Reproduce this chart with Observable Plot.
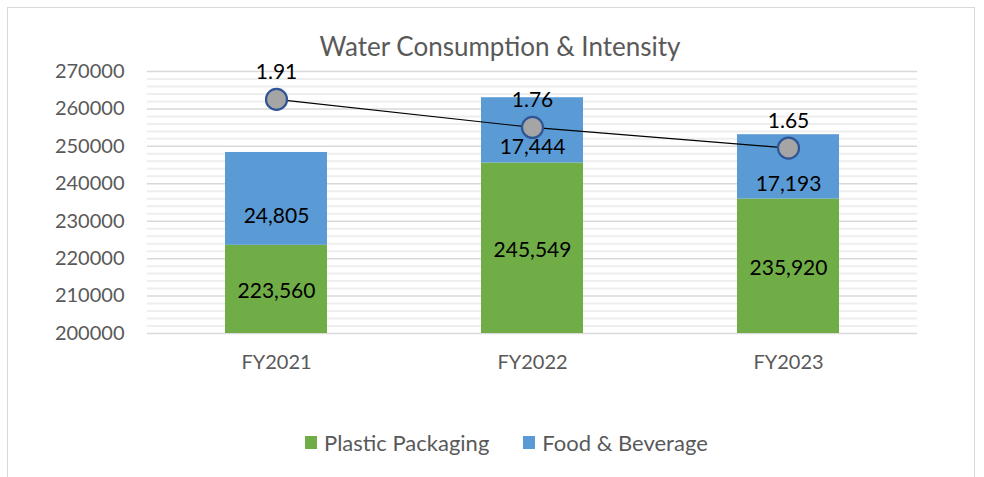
<!DOCTYPE html>
<html>
<head>
<meta charset="utf-8">
<script src="https://cdn.jsdelivr.net/npm/d3@7"></script>
<script src="https://cdn.jsdelivr.net/npm/@observablehq/plot@0.6"></script>
<style>
  html, body { margin: 0; padding: 0; background: #fff; }
  #wrap { position: relative; width: 984px; height: 477px; overflow: hidden; font-family: Lato, "Open Sans", sans-serif; }
  #border { position: absolute; left: 7px; top: 7px; width: 966px; height: 490px; border: 1.5px solid #d9d9d9; }
  #title { position: absolute; left: 0; width: 1000px; top: 30px; text-align: center; font-size: 26px; color: #595959; line-height: 32px; }
  .layer { position: absolute; left: 0; top: 0; }
  #legend { position: absolute; top: 429px; left: 305px; display: flex; align-items: center; font-size: 22px; color: #595959; }
  .sw { width: 12px; height: 13px; display: inline-block; margin-right: 7px; }
  .item { display: flex; align-items: center; margin-right: 34px; }
</style>
</head>
<body>
<div id="wrap">
  <div id="border"></div>
  <div id="title">Water Consumption &amp; Intensity</div>
  <div id="chart" class="layer"></div>
  <div id="line" class="layer"></div>
  <div id="legend"></div>
</div>
<script>
// ---- data ----
const years = ["FY2021", "FY2022", "FY2023"];
const plasticPackaging = [223560, 245549, 235920];
const foodBeverage = [24805, 17444, 17193];
const intensity = [1.91, 1.76, 1.65];
const seriesNames = ["Plastic Packaging", "Food & Beverage"];
const seriesColors = ["#70ad47", "#5b9bd5"];
const yTicks = [200000, 210000, 220000, 230000, 240000, 250000, 260000, 270000];

// ---- layout ----
const W = 984, H = 400;
const M = {top: 71, bottom: 67, left: 147, right: 67};
const yMin = 200000, yMax = 270000;
const minorTicks = d3.range(yMin, yMax + 1, 2000).filter(v => v % 10000 !== 0);

// long table for stacking
const rows = [];
years.forEach((yr, i) => {
  rows.push({year: yr, series: seriesNames[0], value: plasticPackaging[i]});
  rows.push({year: yr, series: seriesNames[1], value: foodBeverage[i]});
});
// label positions: middle of the visible part of each segment
const labels = [];
years.forEach((yr, i) => {
  const lo1 = 0, hi1 = plasticPackaging[i];
  const lo2 = hi1, hi2 = hi1 + foodBeverage[i];
  labels.push({year: yr, series: seriesNames[0], mid: (Math.max(lo1, yMin) + hi1) / 2, text: d3.format(",")(plasticPackaging[i])});
  labels.push({year: yr, series: seriesNames[1], mid: (Math.max(lo2, yMin) + hi2) / 2, text: d3.format(",")(foodBeverage[i])});
});

const xScale = {domain: years, paddingInner: 0.6, paddingOuter: 0.3};

const chart = Plot.plot({
  width: W, height: H,
  marginTop: M.top, marginBottom: M.bottom, marginLeft: M.left, marginRight: M.right,
  style: {fontFamily: "Lato, 'Open Sans', sans-serif", color: "#595959", background: "transparent", overflow: "visible"},
  x: {...xScale, label: null},
  y: {domain: [yMin, yMax], label: null},
  color: {domain: seriesNames, range: seriesColors},
  marks: [
    Plot.ruleY(minorTicks, {stroke: "#eeeeee", strokeWidth: 2}),
    Plot.ruleY(yTicks, {stroke: "#d9d9d9", strokeWidth: 1.5}),
    Plot.barY(rows, Plot.stackY({x: "year", y: "value", fill: "series", order: seriesNames, clip: true})),
    Plot.text(labels.filter(d => d.series === seriesNames[0]), {x: "year", y: "mid", text: "text", fontSize: 21, fill: "#000", dy: 2}),
    Plot.text(labels.filter(d => d.series === seriesNames[1]), {x: "year", y: "mid", text: "text", fontSize: 21, fill: "#000", dy: 17}),
    Plot.axisY(yTicks, {tickSize: 0, tickPadding: 23, fontSize: 20, tickFormat: d3.format("d"), label: null}),
    Plot.axisX({tickSize: 0, tickPadding: 21, fontSize: 20, label: null})
  ]
});
document.getElementById("chart").appendChild(chart);

// intensity line on a secondary (hidden) scale
const lineData = years.map((yr, i) => ({year: yr, v: intensity[i], text: intensity[i].toFixed(2)}));
const line = Plot.plot({
  width: W, height: H,
  marginTop: M.top, marginBottom: M.bottom, marginLeft: M.left, marginRight: M.right,
  style: {fontFamily: "Lato, 'Open Sans', sans-serif", background: "transparent", overflow: "visible"},
  x: {...xScale, axis: null},
  y: {domain: [0.659, 2.059], axis: null},
  marks: [
    Plot.line(lineData, {x: "year", y: "v", stroke: "#000", strokeWidth: 1.2}),
    Plot.dot(lineData, {x: "year", y: "v", r: 10.5, fill: "#a5a5a5", stroke: "#2f5597", strokeWidth: 2.2}),
    Plot.text(lineData, {x: "year", y: "v", text: "text", dy: -27, fontSize: 21, fill: "#000"})
  ]
});
document.getElementById("line").appendChild(line);

// legend
const lg = document.getElementById("legend");
seriesNames.forEach((n, i) => {
  const it = document.createElement("div");
  it.className = "item";
  const sw = document.createElement("span");
  sw.className = "sw";
  sw.style.background = seriesColors[i];
  const tx = document.createElement("span");
  tx.textContent = n;
  it.appendChild(sw); it.appendChild(tx);
  lg.appendChild(it);
});
</script>
</body>
</html>
